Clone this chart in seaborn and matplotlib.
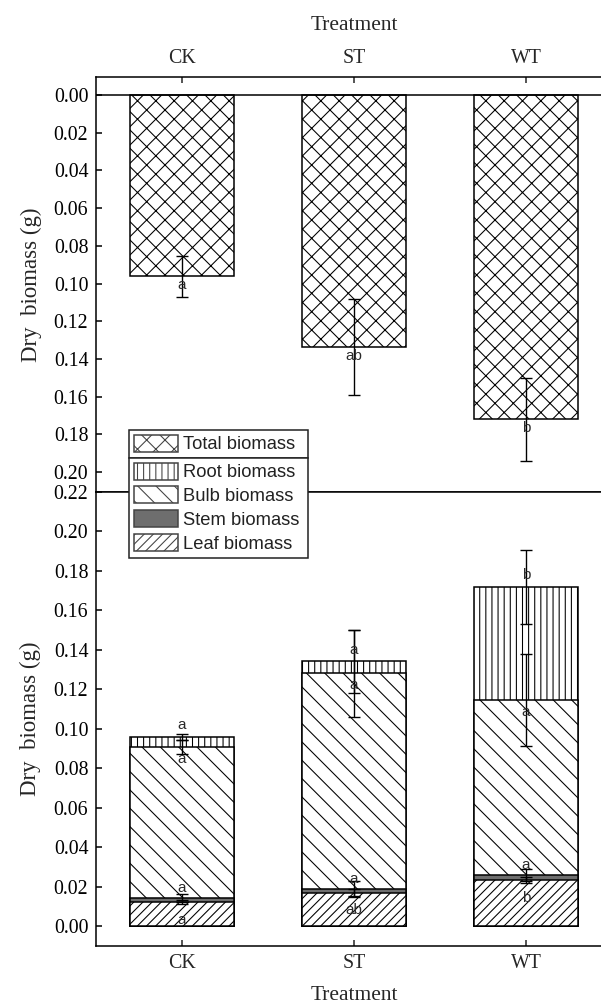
import matplotlib
matplotlib.use("Agg")
import matplotlib.pyplot as plt
import seaborn as sns
import numpy as np
from matplotlib.patches import Patch

# ---- data (g dry biomass, mean and SE per treatment) ----
treatments = ["CK", "ST", "WT"]

total_mean = [0.0962, 0.1337, 0.1721]
total_se = [0.011, 0.0255, 0.022]
total_letters = ["a", "ab", "b"]

leaf_mean = [0.0122, 0.0169, 0.0234]
stem_mean = [0.0019, 0.0021, 0.0025]
bulb_mean = [0.0765, 0.1090, 0.0885]
root_mean = [0.0051, 0.0061, 0.0575]

leaf_se = [0.0010, 0.0020, 0.0015]
stem_se = [0.0020, 0.0040, 0.0030]
bulb_se = [0.0035, 0.0220, 0.0234]
root_se = [0.0015, 0.0160, 0.0186]

leaf_letters = ["a", "ab", "b"]
stem_letters = ["a", "a", "a"]
bulb_letters = ["a", "a", "a"]
root_letters = ["a", "a", "b"]

DPI = 110
W, H = 601, 1005

HATCH_TOTAL = "xx"
HATCH_ROOT = "|||"
HATCH_BULB = "\\\\"
HATCH_LEAF = "////"
STEM_GREY = "#6e6e6e"

sns.set_style("ticks")
plt.rcParams["font.family"] = ["Liberation Serif", "DejaVu Serif"]
plt.rcParams["hatch.linewidth"] = 0.7
plt.rcParams["hatch.color"] = "black"

fig = plt.figure(figsize=(W / DPI, H / DPI), dpi=DPI)


def fx(px):
    return px / W


def fy(py):
    return 1 - py / H


left, right = 96, 612
ax_top = fig.add_axes([fx(left), fy(492), fx(right - left), fy(77) - fy(492)])
ax_bot = fig.add_axes([fx(left), fy(946), fx(right - left), fy(492) - fy(946)])

bar_kw = dict(width=0.6, edgecolor="black", linewidth=1.0, saturation=1,
              errorbar=None)
err_kw = dict(fmt="none", ecolor="black", elinewidth=0.9, capsize=4,
              capthick=0.9, zorder=4)
letter_kw = dict(ha="center", va="center", fontsize=10, color="#2a2a2a",
                 family=["Liberation Sans", "DejaVu Sans"], zorder=5)
xpos = np.arange(len(treatments))

# ---- top panel: total biomass, inverted axis ----
sns.barplot(x=treatments, y=total_mean, ax=ax_top, color="white",
            hatch=HATCH_TOTAL, **bar_kw)
ax_top.errorbar(xpos, total_mean, yerr=total_se, **err_kw)
for i, lab in enumerate(total_letters):
    ax_top.text(xpos[i], total_mean[i] + 0.0045, lab, **letter_kw)
ax_top.axhline(0, color="black", linewidth=1.0, zorder=3)
ax_top.set_ylim(0.2106, -0.00955)
ax_top.set_yticks(np.arange(0, 0.201, 0.02))

# ---- bottom panel: stacked organs ----
leaf_top = np.array(leaf_mean)
stem_top = leaf_top + np.array(stem_mean)
bulb_top = stem_top + np.array(bulb_mean)
root_top = bulb_top + np.array(root_mean)

layers = [
    (root_top, root_se, root_letters, "white", HATCH_ROOT, 0.006),
    (bulb_top, bulb_se, bulb_letters, "white", HATCH_BULB, -0.006),
    (stem_top, stem_se, stem_letters, STEM_GREY, None, 0.005),
    (leaf_top, leaf_se, leaf_letters, "white", HATCH_LEAF, -0.009),
]
for tops, se, letters, fc, hatch, off in layers:
    sns.barplot(x=treatments, y=list(tops), ax=ax_bot, color=fc,
                hatch=hatch, **bar_kw)
for tops, se, letters, fc, hatch, off in layers:
    ax_bot.errorbar(xpos, tops, yerr=se, **err_kw)
    for i, lab in enumerate(letters):
        ax_bot.text(xpos[i], tops[i] + off, lab, **letter_kw)

ax_bot.set_ylim(-0.01014, 0.22)
ax_bot.set_yticks(np.arange(0, 0.2201, 0.02))

# ---- axes styling ----
for ax in (ax_top, ax_bot):
    ax.set_xlim(-0.5, 2.5)
    ax.yaxis.set_major_formatter(matplotlib.ticker.FormatStrFormatter("%.2f"))
    ax.tick_params(axis="y", direction="in", length=4, width=1.0,
                   labelsize=13, pad=5, colors="black")
    for sp in ax.spines.values():
        sp.set_linewidth(1.0)
        sp.set_color("black")
        sp.set_visible(True)
    ax.set_ylabel("Dry  biomass (g)", fontsize=15, labelpad=8)

ax_top.xaxis.tick_top()
ax_top.xaxis.set_label_position("top")
ax_top.tick_params(axis="x", direction="in", length=4, width=1.0,
                   labelsize=13, pad=6)
ax_top.set_xlabel("Treatment", fontsize=14, labelpad=12)

ax_bot.tick_params(axis="x", direction="in", length=4, width=1.0,
                   labelsize=13, pad=5)
ax_bot.set_xlabel("Treatment", fontsize=14, labelpad=9)

# ---- legend (two stacked boxes) ----
leg_font = {"family": ["Liberation Sans", "DejaVu Sans"], "size": 12}
common = dict(mode="expand", bbox_transform=fig.transFigure, borderaxespad=0,
              fancybox=False, framealpha=1, edgecolor="#222222", prop=leg_font,
              handlelength=2.4, handleheight=1.05, handletextpad=0.3,
              borderpad=0.25, labelspacing=0.28, labelcolor="#222222")
h_total = [Patch(facecolor="white", edgecolor="#444444", hatch=HATCH_TOTAL)]
leg1 = fig.legend(h_total, ["Total biomass"], loc="lower left",
                  bbox_to_anchor=(fx(129), fy(458), fx(179), 0), **common)
h_parts = [
    Patch(facecolor="white", edgecolor="#444444", hatch=HATCH_ROOT),
    Patch(facecolor="white", edgecolor="#444444", hatch=HATCH_BULB),
    Patch(facecolor=STEM_GREY, edgecolor="#444444"),
    Patch(facecolor="white", edgecolor="#444444", hatch=HATCH_LEAF),
]
leg2 = fig.legend(h_parts, ["Root biomass", "Bulb biomass", "Stem biomass",
                            "Leaf biomass"], loc="upper left",
                  bbox_to_anchor=(fx(129), fy(458), fx(179), 0), **common)
for lg in (leg1, leg2):
    lg.get_frame().set_linewidth(1.0)

fig.savefig("out.png", dpi=DPI)
plt.close(fig)
